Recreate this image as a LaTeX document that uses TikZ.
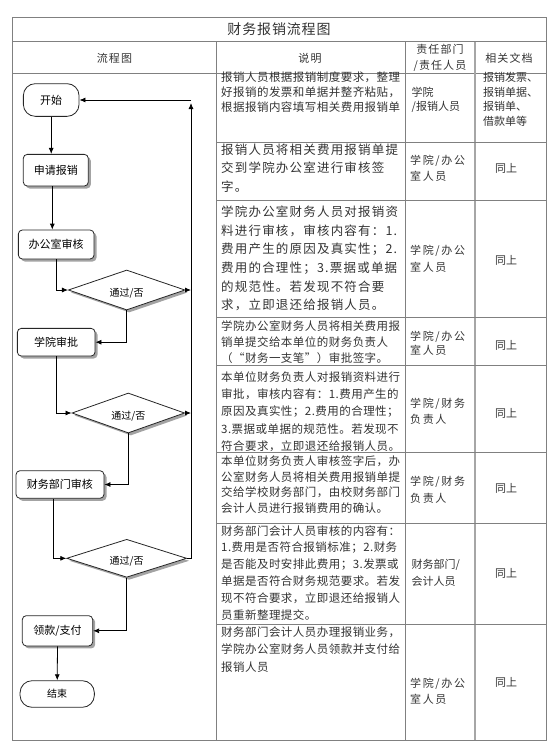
\documentclass[tikz,border=0pt]{standalone}
\usepackage{fontspec}
\setmainfont{Noto Sans CJK SC}
\usetikzlibrary{shapes.geometric,shadows,arrows.meta}

\begin{document}
\begin{tikzpicture}[x=1pt, y=-1pt,
		every node/.style={inner sep=0pt},
		rule/.style={draw=black!50, line width=0.8pt},
		box/.style={draw=black!85, line width=0.8pt, fill=white, rounded corners=4pt,
			font=\fontsize{11}{11}\selectfont,
			drop shadow={shadow xshift=2.5pt, shadow yshift=-2.5pt, fill=black!60, opacity=0.6}},
		ends/.style={draw=black!85, line width=0.8pt, fill=white, rounded corners=12pt,
			font=\fontsize{11}{11}\selectfont},
		check/.style={diamond, aspect=3, draw=black!85, line width=0.8pt, fill=white,
			text height=13pt, text depth=0pt, font=\fontsize{10}{10}\selectfont,
			drop shadow={shadow xshift=2.5pt, shadow yshift=-2.5pt, fill=black!60, opacity=0.6}},
		link/.style={line width=0.8pt, -{Latex[length=6pt, width=5pt]}},
		desc/.style={anchor=west, text=black!80,
			font=\fontsize{11.5}{11.5}\selectfont\addfontfeature{LetterSpace=4}},
		wide/.style={anchor=west, text=black!80,
			font=\fontsize{12.5}{12.5}\selectfont\addfontfeature{LetterSpace=9.6}},
		who/.style={anchor=west, align=left, text=black!80,
			font=\fontsize{11}{16.5}\selectfont\addfontfeature{LetterSpace=15}},
		head/.style={text=black!80, font=\fontsize{11}{16}\selectfont\addfontfeature{LetterSpace=10}},
		same/.style={text=black!80, font=\fontsize{11}{11}\selectfont}
	]
	\useasboundingbox (0,0) rectangle (558,755);

	% table frame
	\draw[rule] (12.3,17) rectangle (546,740);
	\draw[rule] (12.3,41.5) -- (546,41.5);
	\draw[rule] (12.3,73.5) -- (546,73.5);
	\draw[rule] (216.7,41.5) -- (216.7,740);
	\draw[rule] (405,41.5) -- (405,740);
	\draw[draw=black!35, line width=1.6pt] (475,41.5) -- (475,740);
	\foreach \y in {142.5, 200, 317, 365.5, 452.5, 523, 624}
		\draw[rule] (216.7,\y) -- (546,\y);

	% title and column heads
	\node[text=black!80, font=\fontsize{14}{14}\selectfont\addfontfeature{LetterSpace=6}] (title) at (279,29) {财务报销流程图};
	\node[head] (h1) at (114.5,58) {流程图};
	\node[head] (h2) at (310,58) {说明};
	\node[head, align=center] (h3) at (440,58) {责任部门\\/责任人员};
	\node[head] (h4) at (509,58) {相关文档};

	% flow chart
	\node[ends, minimum width=55.7pt, minimum height=32.7pt] (start) at (51.2,100) {开始};
	\node[box, minimum width=65pt, minimum height=31.7pt] (apply) at (55.8,170.2) {申请报销};
	\node[box, minimum width=75.7pt, minimum height=29pt] (office) at (56.2,244.5) {办公室审核};
	\node[check, minimum width=116.7pt, minimum height=40pt] (d1) at (126.7,290) {通过/否};
	\node[box, minimum width=77.7pt, minimum height=27.7pt] (college) at (56.2,342.2) {学院审批};
	\node[check, minimum width=112.7pt, minimum height=40pt] (d2) at (128.3,413) {通过/否};
	\node[box, minimum width=88pt, minimum height=27.6pt] (finance) at (60,484.5) {财务部门审核};
	\node[check, minimum width=120pt, minimum height=38pt] (d3) at (126.7,558.3) {通过/否};
	\node[box, minimum width=70.4pt, minimum height=30.3pt] (pay) at (57.5,630.8) {领款/支付};
	\node[ends, minimum width=74.3pt, minimum height=26.6pt, font=\fontsize{10}{10}\selectfont] (stop) at (57.2,694) {结束};

	\draw[link] (start.south) -- (start.south |- apply.north);
	\draw[link] ([xshift=-3.5pt]apply.south) -- ([xshift=-3.5pt]apply.south |- office.north);
	\draw[link] (office.south) |- (d1.west);
	\draw[link] (d1.south) |- (college.east);
	\draw[link] (college.south) |- (d2.west);
	\draw[link] (d2.south) |- (finance.east);
	\draw[link] ([xshift=-7pt]finance.south) |- (d3.west);
	\draw[link] (d3.south) |- (pay.east);
	\draw[link] (pay.south) -- (stop.north);

	% back to start
	\coordinate (back) at (191,100);
	\draw[link] (d3.east) -- (d3.east -| back) -- ([yshift=-3pt]back);
	\draw[link] (back) -- (back -| start.east);
	\draw[link] (d1.east) -- (d1.east -| back);
	\draw[link] (d2.east) -- (d2.east -| back);

	% description column
	\foreach \txt [count=\i] in {报销人员根据报销制度要求，整理, 好报销的发票和单据并整齐粘贴，, 根据报销内容填写相关费用报销单}
		\node[desc] (r1-\i) at (221,{77.5+(\i-1)*14.7}) {\txt};
	\foreach \txt [count=\i] in {报销人员将相关费用报销单提, 交到学院办公室进行审核签, 字。}
		\node[wide] (r2-\i) at (221,{149.5+(\i-1)*18.5}) {\txt};
	\foreach \txt [count=\i] in {学院办公室财务人员对报销资, 料进行审核，审核内容有：1., 费用产生的原因及真实性；2., 费用的合理性；3.票据或单据, 的规范性。若发现不符合要, 求，立即退还给报销人员。}
		\node[wide] (r3-\i) at (221,{212+(\i-1)*18.6}) {\txt};
	\foreach \txt [count=\i] in {学院办公室财务人员将相关费用报, 销单提交给本单位的财务负责人, （“财务一支笔”）审批签字。}
		\node[desc] (r4-\i) at (221,{326+(\i-1)*16}) {\txt};
	\foreach \txt [count=\i] in {本单位财务负责人对报销资料进行, 审批，审核内容有：1.费用产生的, 原因及真实性；2.费用的合理性；, 3.票据或单据的规范性。若发现不, 符合要求，立即退还给报销人员。}
		\node[desc] (r5-\i) at (221,{377+(\i-1)*17.4}) {\txt};
	\foreach \txt [count=\i] in {本单位财务负责人审核签字后，办, 公室财务人员将相关费用报销单提, 交给学校财务部门，由校财务部门, 会计人员进行报销费用的确认。}
		\node[desc] (r6-\i) at (221,{461+(\i-1)*15.8}) {\txt};
	\foreach \txt [count=\i] in {财务部门会计人员审核的内容有：, 1.费用是否符合报销标准；2.财务, 是否能及时安排此费用；3.发票或, 单据是否符合财务规范要求。若发, 现不符合要求，立即退还给报销人, 员重新整理提交。}
		\node[desc] (r7-\i) at (221,{531+(\i-1)*16.8}) {\txt};
	\foreach \txt [count=\i] in {财务部门会计人员办理报销业务，, 学院办公室财务人员领款并支付给, 报销人员}
		\node[desc] (r8-\i) at (221,{632+(\i-1)*17.5}) {\txt};

	% who is in charge
	\node[who, font=\fontsize{11}{14.7}\selectfont] (p1) at (411.5,99.7) {学院\\/报销人员};
	\node[who] (p2) at (410,168.3) {学院/办公\\室人员};
	\node[who] (p3) at (410,259) {学院/办公\\室人员};
	\node[who, font=\fontsize{11}{14}\selectfont\addfontfeature{LetterSpace=15}] (p4) at (410,343) {学院/办公\\室人员};
	\node[who] (p5) at (410,411.5) {学院/财务\\负责人};
	\node[who] (p6) at (410,490) {学院/财务\\负责人};
	\node[who, font=\fontsize{11}{17.5}\selectfont] (p7) at (411.5,572.8) {财务部门/\\会计人员};
	\node[who] (p8) at (410,691.3) {学院/办公\\室人员};

	% related documents
	\node[who, font=\fontsize{11}{14.7}\selectfont] (f1) at (483,99.3) {报销发票、\\报销单据、\\报销单、\\借款单等};
	\node[same] (f2) at (506,168.3) {同上};
	\node[same] (f3) at (506,260) {同上};
	\node[same] (f4) at (506,345.7) {同上};
	\node[same] (f5) at (506,413.3) {同上};
	\node[same] (f6) at (506,488) {同上};
	\node[same] (f7) at (506,573.3) {同上};
	\node[same] (f8) at (506,682.7) {同上};
\end{tikzpicture}
\end{document}
